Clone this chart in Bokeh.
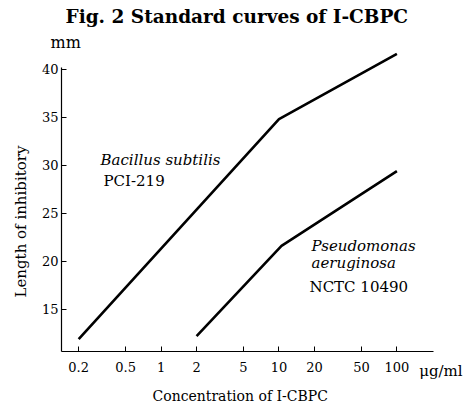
from bokeh.plotting import figure
from bokeh.models import (Label, Range1d, FixedTicker, CustomJSTickFormatter,
                          LogAxis, Title)
from bokeh.embed import file_html
from bokeh.resources import INLINE

# Data
conc_bacillus = [0.2, 10, 100]
zone_bacillus = [11.9, 34.8, 41.6]
conc_pseudo = [2, 10.5, 100]
zone_pseudo = [12.2, 21.6, 29.4]
x_ticks = [0.2, 0.5, 1, 2, 5, 10, 20, 50, 100]
y_ticks = [15, 20, 25, 30, 35, 40]
x_unit = "μg/ml"
y_unit = "mm"

FONT = "DejaVu Serif"
W, H = 467, 406
L, R, T, B = 61, 0, 52, 50   # borders around the frame
FRAME_BOTTOM = H - B
UNIT_TICK_POS = 236          # where the unit text sits on the x scale
X_AXIS_BOUNDS = (0.143, 204)  # drawn extent of the x axis line

p = figure(width=W, height=H, x_axis_type="log", title=None,
           x_range=Range1d(0.143, 397), y_range=Range1d(10.6, 41.75),
           output_backend="svg", toolbar_location=None,
           min_border_left=L, min_border_right=R,
           min_border_top=T, min_border_bottom=B)
p.outline_line_color = None
p.xgrid.visible = False
p.ygrid.visible = False
p.background_fill_color = "white"
p.border_fill_color = "white"

# main axes: lines, inward ticks, tick labels
for ax in (p.xaxis[0], p.yaxis[0]):
    ax.axis_line_color = "black"
    ax.axis_line_width = 1.2
    ax.major_tick_in = 5
    ax.major_tick_out = 0
    ax.minor_tick_in = 0
    ax.minor_tick_out = 0
    ax.major_tick_line_color = "black"
    ax.major_label_text_font = FONT
    ax.major_label_text_font_size = "13px"
    ax.major_label_text_color = "black"

p.xaxis[0].ticker = FixedTicker(ticks=x_ticks)
p.xaxis[0].formatter = CustomJSTickFormatter(code="return tick.toString();")
p.xaxis[0].major_label_standoff = 10
p.xaxis[0].bounds = X_AXIS_BOUNDS

p.yaxis[0].ticker = FixedTicker(ticks=y_ticks)
p.yaxis[0].major_label_standoff = 3
p.yaxis[0].bounds = (10.6, 40.2)

# second bottom axis: only the unit, raised to the tick-label row
unit_axis = LogAxis(ticker=FixedTicker(ticks=[UNIT_TICK_POS]),
                    formatter=CustomJSTickFormatter(args=dict(unit=x_unit),
                                                    code="return unit;"),
                    axis_line_color=None, major_tick_line_color=None,
                    minor_tick_line_color=None,
                    major_label_text_font=FONT, major_label_text_font_size="15px",
                    major_label_text_color="black", major_label_standoff=-19)
p.add_layout(unit_axis, "below")
p.add_layout(Title(text="Concentration of I-CBPC", align="left", offset=91,
                   standoff=6, text_font=FONT, text_font_size="14px",
                   text_font_style="normal", text_color="black"), "below")

p.line(conc_bacillus, zone_bacillus, line_color="black", line_width=2.6)
p.line(conc_pseudo, zone_pseudo, line_color="black", line_width=2.6)

# titles around the frame
p.add_layout(Title(text=y_unit, align="left", offset=-11, standoff=2,
                   text_font=FONT, text_font_size="16px",
                   text_font_style="normal", text_color="black"), "above")
p.add_layout(Title(text="Fig. 2 Standard curves of I-CBPC", align="left",
                   offset=4, standoff=6, text_font=FONT, text_font_size="18.5px",
                   text_font_style="bold", text_color="black"), "above")
p.add_layout(Title(text="Length of inhibitory", align="left", offset=54,
                   standoff=18, text_font=FONT, text_font_size="15px",
                   text_font_style="normal", text_color="black"), "left")


def lab(text, px, py, size="15px", style="normal", align="left"):
    # screen units of a Label are measured from the frame's bottom-left corner
    p.add_layout(Label(x=px - L, y=FRAME_BOTTOM - py, x_units="screen", y_units="screen",
                       text=text, text_font=FONT, text_font_size=size,
                       text_font_style=style, text_align=align,
                       text_baseline="alphabetic", text_color="black"))


lab("Bacillus subtilis", 100, 164, style="italic")
lab("PCI-219", 103, 185)
lab("Pseudomonas", 311, 250, style="italic")
lab("aeruginosa", 311, 267, style="italic")
lab("NCTC 10490", 309, 291)

open("out.html", "w").write(file_html(p, INLINE))
